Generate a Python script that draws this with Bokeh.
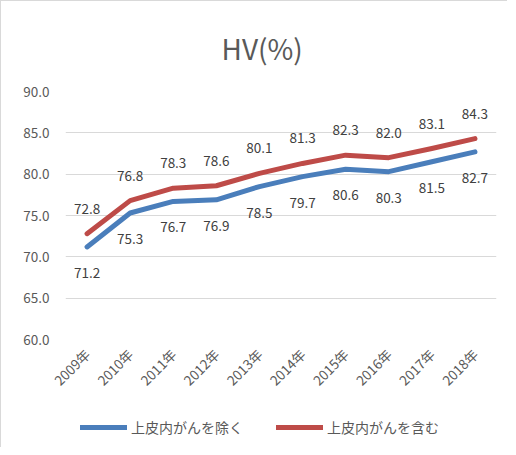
from bokeh.plotting import figure
from bokeh.layouts import column
from bokeh.models import ColumnDataSource, Legend, LegendItem, FixedTicker, NumeralTickFormatter, Range1d
from bokeh.core.properties import value
from bokeh.embed import file_html
from bokeh.resources import INLINE
import math

years = ["2009年", "2010年", "2011年", "2012年", "2013年", "2014年", "2015年", "2016年", "2017年", "2018年"]
excl = [71.2, 75.3, 76.7, 76.9, 78.5, 79.7, 80.6, 80.3, 81.5, 82.7]
incl = [72.8, 76.8, 78.3, 78.6, 80.1, 81.3, 82.3, 82.0, 83.1, 84.3]
name_excl = "上皮内がんを除く"
name_incl = "上皮内がんを含む"
title_text = "HV(%)"
y_ticks = [60, 65, 70, 75, 80, 85, 90]

FONT = "Noto Sans CJK JP"
BLUE = "#4A7EBB"
RED = "#BE4B48"
GRAY = "#595959"

src = ColumnDataSource(dict(
    x=years, excl=excl, incl=incl,
    excl_lbl=[f"{v:.1f}" for v in excl],
    incl_lbl=[f"{v:.1f}" for v in incl],
))

p = figure(x_range=years, y_range=Range1d(60, 90), width=506, height=405,
           output_backend="svg", toolbar_location=None,
           min_border_left=64, min_border_right=11, min_border_top=90, min_border_bottom=67)

p.title.text = title_text
p.title.align = "left"
p.title.offset = 156
p.title.text_font = FONT
p.title.text_font_size = "28px"
p.title.text_font_style = "normal"
p.title.text_color = GRAY
p.title.standoff = 48

p.outline_line_color = None
p.xgrid.grid_line_color = None
p.ygrid.grid_line_color = "#D9D9D9"
p.ygrid.grid_line_width = 1

p.yaxis.ticker = FixedTicker(ticks=y_ticks)
p.yaxis.formatter = NumeralTickFormatter(format="0.0")
for ax in (p.xaxis, p.yaxis):
    ax.axis_line_color = None
    ax.major_tick_line_color = None
    ax.minor_tick_line_color = None
    ax.major_label_text_font = FONT
    ax.major_label_text_font_size = "13.5px"
    ax.major_label_text_color = GRAY
p.yaxis.major_label_standoff = 10
p.xaxis.major_label_orientation = math.pi / 4
p.xaxis.major_label_standoff = 6

p.line("x", "excl", source=src, line_color=BLUE, line_width=5, line_cap="round", line_join="round")
p.line("x", "incl", source=src, line_color=RED, line_width=5, line_cap="round", line_join="round")

p.text("x", "incl", text="incl_lbl", source=src, text_font=value(FONT), text_font_size="13.5px",
       text_color="#404040", text_align="center", text_baseline="middle", y_offset=-25)
p.text("x", "excl", text="excl_lbl", source=src, text_font=value(FONT), text_font_size="13.5px",
       text_color="#404040", text_align="center", text_baseline="middle", y_offset=26)

# legend strip below the chart
lg = figure(x_range=years, y_range=Range1d(0, 1), width=506, height=41,
            output_backend="svg", toolbar_location=None,
            min_border_left=0, min_border_right=0, min_border_top=0, min_border_bottom=0)
lg.axis.visible = False
lg.grid.visible = False
lg.outline_line_color = None
l1 = lg.line("x", "excl", source=src, line_color=BLUE, line_width=5, line_cap="round")
l2 = lg.line("x", "incl", source=src, line_color=RED, line_width=5, line_cap="round")

legend = Legend(items=[LegendItem(label=name_excl, renderers=[l1]),
                       LegendItem(label=name_incl, renderers=[l2])],
                orientation="horizontal", location=(15, 10),
                border_line_color=None, background_fill_alpha=0,
                label_text_font=FONT, label_text_font_size="14px", label_text_color=GRAY,
                glyph_width=47, label_standoff=4, spacing=33, padding=0, margin=0)
lg.add_layout(legend, "center")

layout = column(p, lg, spacing=0)
layout.styles = {"border-top": "1px solid #D9D9D9", "border-left": "1px solid #D9D9D9"}

open("out.html", "w").write(file_html(layout, INLINE))
